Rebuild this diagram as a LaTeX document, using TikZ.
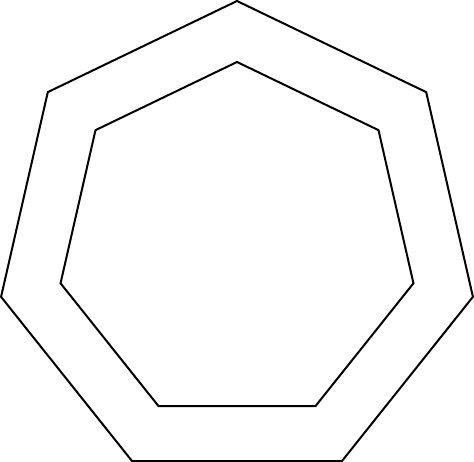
\documentclass[tikz,border=0pt]{standalone}

\begin{document}
\begin{tikzpicture}[x = 1pt, y = 1pt]

	% Definitions
	
	\def\W{474}		% Picture width
	\def\H{461}		% Picture height
	\def\Rout{242}		% Circumradius of outer heptagon
	\def\Rin{181}		% Circumradius of inner heptagon
	
	\useasboundingbox (0, 0) rectangle (\W, \H);
	
	\coordinate (centre) at (237, {\H - 243});
	
	% Outer heptagon
	
	\draw [line width = 2pt, line join = miter, shift = {(centre)}] (90 : \Rout)
		\foreach \k in {1, ..., 6} { -- ({90 + \k * 360 / 7} : \Rout) } -- cycle;
	
	% Inner heptagon
	
	\draw [line width = 2pt, line join = miter, shift = {(centre)}] (90 : \Rin)
		\foreach \k in {1, ..., 6} { -- ({90 + \k * 360 / 7} : \Rin) } -- cycle;
	
\end{tikzpicture}
\end{document}
